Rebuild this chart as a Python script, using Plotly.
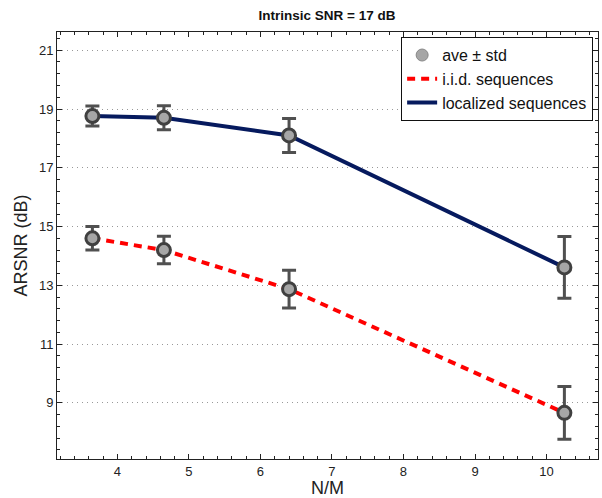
import plotly.graph_objects as go

# Data
nm = [3.65, 4.65, 6.4, 10.25]
loc_mean = [18.76, 18.70, 18.10, 13.61]
loc_std = [0.34, 0.41, 0.58, 1.05]
iid_mean = [14.60, 14.20, 12.87, 8.66]
iid_std = [0.40, 0.47, 0.64, 0.90]

yticks = [9, 11, 13, 15, 17, 19, 21]
xticks = [4, 5, 6, 7, 8, 9, 10]

FONT = "Liberation Sans, Arial, Helvetica, sans-serif"
NAVY = "#061a5e"
RED = "#ff0000"
EDGE = "#404040"
FILL = "#a6a6a6"

fig = go.Figure()

# lines
fig.add_trace(go.Scatter(x=nm, y=loc_mean, mode="lines",
                         line=dict(color=NAVY, width=4), showlegend=False))
fig.add_trace(go.Scatter(x=nm, y=iid_mean, mode="lines",
                         line=dict(color=RED, width=4, dash="8px,6px"), showlegend=False))

# error bars + markers
for m, s in [(loc_mean, loc_std), (iid_mean, iid_std)]:
    fig.add_trace(go.Scatter(
        x=nm, y=m, mode="markers",
        error_y=dict(type="data", array=s, visible=True, color="#505050",
                     thickness=3, width=7),
        marker=dict(size=13, color=FILL, line=dict(color=EDGE, width=3)),
        showlegend=False))

# legend entries
fig.add_trace(go.Scatter(x=[None], y=[None], mode="markers", name="ave \u00b1 std",
                         marker=dict(size=12, color=FILL, line=dict(color="#888888", width=1))))
fig.add_trace(go.Scatter(x=[None], y=[None], mode="lines", name="i.i.d. sequences",
                         line=dict(color=RED, width=4, dash="8px,6px")))
fig.add_trace(go.Scatter(x=[None], y=[None], mode="lines", name="localized sequences",
                         line=dict(color=NAVY, width=4)))

axis_common = dict(
    showline=True, linecolor="#222222", linewidth=1, mirror="ticks",
    ticks="inside", ticklen=5, tickcolor="#222222",
    zeroline=False,
    tickfont=dict(family=FONT, size=13, color="#222222"),
)

fig.update_xaxes(
    range=[3.155, 10.72], tickvals=xticks, showgrid=False,
    minor=dict(dtick=0.2, tick0=4, ticks="inside", ticklen=3, tickcolor="#222222", showgrid=False),
    title=dict(text="N/M", font=dict(family=FONT, size=18, color="#222222"), standoff=2),
    **axis_common)
fig.update_yaxes(
    range=[7.09, 21.62], tickvals=yticks, showgrid=True,
    gridcolor="#999999", griddash="1px,4px", gridwidth=1,
    minor=dict(dtick=0.4, tick0=9, ticks="inside", ticklen=3, tickcolor="#222222", showgrid=False),
    title=dict(text="ARSNR (dB)", font=dict(family=FONT, size=18, color="#222222"), standoff=6),
    **axis_common)

fig.update_layout(
    width=602, height=498,
    margin=dict(l=57, r=4, t=32, b=39, autoexpand=False),
    paper_bgcolor="white", plot_bgcolor="white",
    title=dict(text="<b>Intrinsic SNR = 17 dB</b>", x=(57 + 270) / 602, xanchor="center",
               y=1 - 15 / 498, yanchor="middle",
               font=dict(family=FONT, size=13.5, color="#111111")),
    legend=dict(x=0.991, xanchor="right", y=0.988, yanchor="top",
                bgcolor="white", bordercolor="#111111", borderwidth=1,
                font=dict(family=FONT, size=16, color="#111111"),
                tracegroupgap=0, itemwidth=30),
    showlegend=True,
)

fig.write_html("out.html", config={"displayModeBar": False},
               post_script="document.body.style.margin='0';document.body.style.overflow='hidden';")
